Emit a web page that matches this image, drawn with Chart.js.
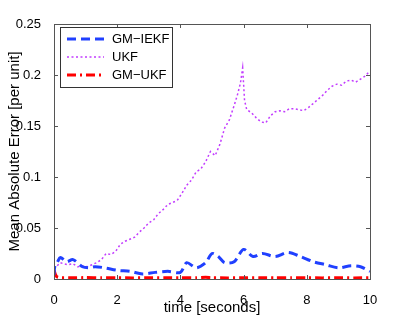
<!DOCTYPE html>
<html>
<head>
<meta charset="utf-8">
<script src="https://cdn.jsdelivr.net/npm/chart.js@4"></script>
<style>
  html, body { margin: 0; padding: 0; background: #fff; }
  #wrap { width: 409px; height: 317px; }
</style>
</head>
<body>
<div id="wrap"><canvas id="myChart" width="409" height="317"></canvas></div>
<script>
const seriesNames = ["GM\u2212IEKF", "UKF", "GM\u2212UKF"];
const xTicks = [0, 2, 4, 6, 8, 10];
const yTicks = [0, 0.05, 0.1, 0.15, 0.2, 0.25];

const iekfTime = [0, 0.03, 0.1, 0.2, 0.4, 0.6, 0.9, 1.1, 1.3, 1.6, 2.0, 2.4, 2.8, 3.2, 3.6, 4.0, 4.2, 4.5, 4.8, 5.0, 5.2, 5.4, 5.7, 6.0, 6.3, 6.6, 7.0, 7.4, 7.8, 8.2, 8.6, 9.0, 9.4, 9.7, 10];
const iekfError = [0.004, 0.013, 0.016, 0.021, 0.017, 0.019, 0.012, 0.011, 0.012, 0.011, 0.0085, 0.0075, 0.005, 0.0065, 0.0075, 0.0065, 0.016, 0.011, 0.016, 0.025, 0.022, 0.016, 0.017, 0.029, 0.022, 0.025, 0.022, 0.026, 0.022, 0.017, 0.014, 0.011, 0.013, 0.012, 0.0075];

const ukfTime = [0, 0.1, 0.2, 0.3, 0.45, 0.6, 0.75, 0.9, 1.05, 1.2, 1.35, 1.5, 1.65, 1.8, 1.95, 2.1, 2.25, 2.4, 2.55, 2.7, 2.85, 3.0, 3.15, 3.3, 3.45, 3.6, 3.75, 3.9, 4.05, 4.2, 4.35, 4.5, 4.65, 4.8, 4.95, 5.1, 5.25, 5.4, 5.55, 5.7, 5.8, 5.9, 5.97, 6.03, 6.1, 6.25, 6.4, 6.55, 6.7, 6.85, 7.0, 7.15, 7.3, 7.45, 7.6, 7.75, 7.9, 8.05, 8.2, 8.35, 8.5, 8.65, 8.8, 8.95, 9.1, 9.25, 9.4, 9.55, 9.7, 9.85, 10];
const ukfError = [0.010, 0.013, 0.016, 0.015, 0.014, 0.015, 0.012, 0.013, 0.012, 0.014, 0.016, 0.019, 0.025, 0.024, 0.027, 0.034, 0.037, 0.039, 0.041, 0.046, 0.050, 0.055, 0.058, 0.064, 0.068, 0.073, 0.075, 0.077, 0.084, 0.092, 0.097, 0.105, 0.108, 0.115, 0.125, 0.121, 0.132, 0.148, 0.156, 0.170, 0.180, 0.192, 0.207, 0.175, 0.166, 0.163, 0.158, 0.154, 0.153, 0.160, 0.164, 0.165, 0.164, 0.167, 0.167, 0.166, 0.165, 0.168, 0.172, 0.176, 0.180, 0.185, 0.189, 0.191, 0.190, 0.194, 0.195, 0.193, 0.196, 0.199, 0.204];

const gmukfTime = [0, 0.05, 0.1, 0.2, 0.6, 1.0, 1.5, 2.0, 2.5, 3.0, 3.5, 4.0, 4.5, 4.8, 5.0, 5.5, 6.0, 6.5, 7.0, 7.5, 8.0, 8.5, 9.0, 9.5, 10];
const gmukfError = [0.009, 0.004, 0.002, 0.0012, 0.0012, 0.0014, 0.0012, 0.0012, 0.0011, 0.0012, 0.0012, 0.0013, 0.0012, 0.0016, 0.0012, 0.0011, 0.0012, 0.0012, 0.0011, 0.0012, 0.0012, 0.0011, 0.0012, 0.0011, 0.0013];

const colors = ["#2040ff", "#c23cff", "#ff0000"];
const dashes = [[9, 5], [2, 2.5], [9, 4, 2, 4]];
const widths = [3, 1.5, 3];
const tensions = [0.3, 0, 0.2];

const toPoints = (xs, ys) => xs.map((x, i) => ({ x, y: ys[i] }));

const frame = {
  id: "frame",
  afterDatasetsDraw(chart) {
    const { ctx, chartArea: a, scales } = chart;
    ctx.save();
    ctx.strokeStyle = "#555";
    ctx.lineWidth = 1;
    ctx.setLineDash([]);
    ctx.strokeRect(a.left + 0.5, a.top + 0.5, a.right - a.left, a.bottom - a.top);
    ctx.beginPath();
    xTicks.forEach(v => {
      const px = Math.round(scales.x.getPixelForValue(v)) + 0.5;
      ctx.moveTo(px, a.bottom); ctx.lineTo(px, a.bottom - 4);
      ctx.moveTo(px, a.top); ctx.lineTo(px, a.top + 4);
    });
    yTicks.forEach(v => {
      const py = Math.round(scales.y.getPixelForValue(v)) + 0.5;
      ctx.moveTo(a.left, py); ctx.lineTo(a.left + 4, py);
      ctx.moveTo(a.right, py); ctx.lineTo(a.right - 4, py);
    });
    ctx.stroke();

    // legend box
    const lx = a.left + 6, ly = a.top + 3, lw = 112, lh = 60;
    ctx.fillStyle = "#fff";
    ctx.fillRect(lx, ly, lw, lh);
    ctx.strokeStyle = "#333";
    ctx.strokeRect(lx + 0.5, ly + 0.5, lw, lh);
    ctx.font = "13px 'Liberation Sans', Arial, sans-serif";
    ctx.textBaseline = "middle";
    seriesNames.forEach((name, i) => {
      const y = ly + 12 + i * 18;
      ctx.beginPath();
      ctx.strokeStyle = colors[i];
      ctx.lineWidth = widths[i];
      ctx.setLineDash(dashes[i]);
      ctx.moveTo(lx + 7, y); ctx.lineTo(lx + 44, y);
      ctx.stroke();
      ctx.setLineDash([]);
      ctx.fillStyle = "#000";
      ctx.fillText(name, lx + 52, y);
    });
    ctx.restore();
  }
};

const ctx = document.getElementById("myChart").getContext("2d");
new Chart(ctx, {
  type: "line",
  data: {
    datasets: [
      { label: seriesNames[0], data: toPoints(iekfTime, iekfError) },
      { label: seriesNames[1], data: toPoints(ukfTime, ukfError) },
      { label: seriesNames[2], data: toPoints(gmukfTime, gmukfError) },
    ].map((d, i) => ({
      ...d,
      borderColor: colors[i],
      borderWidth: widths[i],
      borderDash: dashes[i],
      pointRadius: 0,
      tension: tensions[i],
      fill: false,
    })),
  },
  options: {
    responsive: false,
    animation: false,
    layout: { padding: { left: 0, top: 24, right: 39, bottom: 0 } },
    plugins: { legend: { display: false }, tooltip: { enabled: false } },
    scales: {
      x: {
        type: "linear",
        min: 0,
        max: 10,
        afterBuildTicks: s => { s.ticks = xTicks.map(value => ({ value })); },
        afterFit: s => { s.height = 38; },
        grid: { display: false },
        border: { display: false },
        ticks: { color: "#000", padding: 6, maxRotation: 0, font: { family: "'Liberation Sans', Arial, sans-serif", size: 13 } },
        title: {
          display: true,
          text: "time [seconds]",
          color: "#000",
          padding: { top: 0, bottom: 0 },
          font: { family: "'Liberation Sans', Arial, sans-serif", size: 15 },
        },
      },
      y: {
        min: 0,
        max: 0.25,
        afterBuildTicks: s => { s.ticks = yTicks.map(value => ({ value })); },
        afterFit: s => { s.width = 54; },
        grid: { display: false },
        border: { display: false },
        ticks: {
          color: "#000",
          padding: 5,
          font: { family: "'Liberation Sans', Arial, sans-serif", size: 13 },
          callback: v => String(Number(v.toFixed(2))),
        },
        title: {
          display: true,
          text: "Mean Absolute Error [per unit]",
          color: "#000",
          padding: { top: 6, bottom: 0 },
          font: { family: "'Liberation Sans', Arial, sans-serif", size: 15 },
        },
      },
    },
  },
  plugins: [frame],
});
</script>
</body>
</html>
